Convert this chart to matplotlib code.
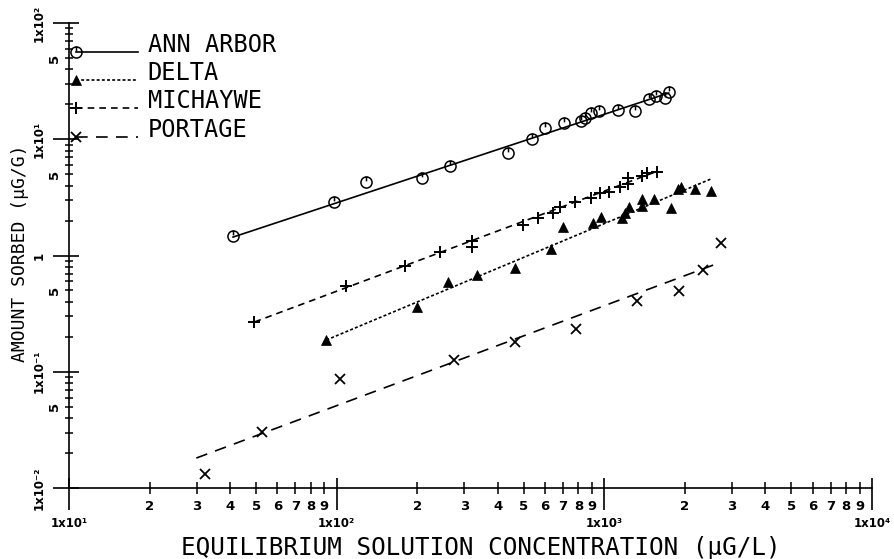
import numpy as np
import matplotlib.pyplot as plt
from matplotlib.path import Path
from matplotlib.ticker import FixedLocator, FixedFormatter

# equilibrium solution concentration (ug/L) vs amount sorbed (ug/g)
ann_x = [41.0, 97.5, 128.8, 209, 264, 436, 539, 598, 708, 818, 849, 892,
         958, 1124, 1297, 1463, 1559, 1679, 1738]
ann_y = [1.47, 2.87, 4.26, 4.61, 5.89, 7.57, 10.0, 12.6, 13.7, 14.4, 15.3,
         16.7, 17.5, 17.9, 17.5, 22.1, 23.6, 22.5, 25.6]

delta_x = [91.5, 199.5, 259.8, 334, 462, 634, 700, 906, 970, 1163, 1197,
           1239, 1381, 1381, 1527, 1778, 1877, 1937, 2185, 2505]
delta_y = [0.1875, 0.363, 0.588, 0.679, 0.776, 1.13, 1.75, 1.91, 2.15, 2.09,
           2.32, 2.61, 2.66, 3.04, 3.04, 2.55, 3.71, 3.92, 3.71, 3.60]

mich_x = [49.3, 108.6, 179.9, 242.6, 320.6, 320.6, 496.6, 564.9, 641, 681,
          778, 893, 960, 1037, 1146, 1231, 1231, 1380, 1449, 1571]
mich_y = [0.270, 0.547, 0.813, 1.065, 1.32, 1.19, 1.83, 2.09, 2.34, 2.59,
          2.90, 3.10, 3.43, 3.54, 3.91, 4.61, 4.12, 4.83, 5.09, 5.26]

port_x = [32.3, 52.8, 102.6, 273.5, 462.5, 785, 1324, 1906, 2334, 2722]
port_y = [0.0132, 0.0303, 0.0861, 0.126, 0.179, 0.233, 0.408, 0.496, 0.750, 1.29]

# fitted isotherm lines (end points)
ann_fit_x, ann_fit_y = [41, 1740], [1.44, 25.0]
delta_fit_x, delta_fit_y = [91.5, 2500], [0.1875, 4.55]
mich_fit_x, mich_fit_y = [49.3, 1575], [0.268, 5.3]
port_fit_x, port_fit_y = [29.9, 2720], [0.0181, 0.874]

soils = ['ANN ARBOR', 'DELTA', 'MICHAYWE', 'PORTAGE']

x_major = [1e1, 1e2, 1e3, 1e4]
x_major_labels = ['1x10\u00b9', '1x10\u00b2', '1x10\u00b3', '1x10\u2074']
y_major = [1e-2, 1e-1, 1e0, 1e1, 1e2]
y_major_labels = ['1x10\u207b\u00b2', '1x10\u207b\u00b9', '1', '1x10\u00b9', '1x10\u00b2']

# circle with a little stroke at the top, like the plotter symbol
o_mark = Path.make_compound_path(
    Path.unit_circle(),
    Path([[0, 1], [0, 0.2]], [Path.MOVETO, Path.LINETO]))

lw = 1.2
styles = [
    dict(marker=o_mark, ms=8, mfc='none', mec='k', mew=1.1, ls='-'),
    dict(marker='^', ms=6.5, mfc='k', mec='k', mew=0.5, ls=(0, (1.8, 1.3))),
    dict(marker='+', ms=8, mec='k', mew=1.4, ls=(0, (4, 3))),
    dict(marker='x', ms=7, mec='k', mew=1.3, ls=(0, (7, 5))),
]
series = [(ann_x, ann_y, ann_fit_x, ann_fit_y),
          (delta_x, delta_y, delta_fit_x, delta_fit_y),
          (mich_x, mich_y, mich_fit_x, mich_fit_y),
          (port_x, port_y, port_fit_x, port_fit_y)]

fig = plt.figure(figsize=(8.94, 5.59), dpi=100)
pos = [69 / 894, 71 / 559, 803 / 894, 465 / 559]
ax = fig.add_axes(pos)

for (px, py, fx, fy), st in zip(series, styles):
    ax.plot(fx, fy, color='k', lw=lw, ls=st['ls'])
    ax.plot(px, py, ls='none', color='k',
            **{k: v for k, v in st.items() if k != 'ls'})

def setup_log(a):
    a.set_xscale('log')
    a.set_yscale('log')
    a.set_xlim(1e1, 1e4)
    a.set_ylim(1e-2, 1e2)
    for s in ['top', 'right']:
        a.spines[s].set_visible(False)

setup_log(ax)
for s in ['left', 'bottom']:
    ax.spines[s].set_linewidth(1.2)

x_minor = [m * 10.0 ** e for e in range(1, 4) for m in range(2, 10)]
x_minor_labels = [str(m) for e in range(1, 4) for m in range(2, 10)]
y_minor = [m * 10.0 ** e for e in range(-2, 2) for m in range(2, 10)]
y_minor_labels = ['5' if m == 5 else '' for e in range(-2, 2) for m in range(2, 10)]

ax.xaxis.set_major_locator(FixedLocator(x_major))
ax.xaxis.set_major_formatter(FixedFormatter(x_major_labels))
ax.xaxis.set_minor_locator(FixedLocator(x_minor))
ax.xaxis.set_minor_formatter(FixedFormatter(x_minor_labels))
ax.yaxis.set_major_locator(FixedLocator(y_major))
ax.yaxis.set_major_formatter(FixedFormatter(y_major_labels))
ax.yaxis.set_minor_locator(FixedLocator(y_minor))
ax.yaxis.set_minor_formatter(FixedFormatter(y_minor_labels))

ax.tick_params(axis='x', which='major', direction='out', length=16, width=1.2,
               pad=5, labelsize=8.5)
ax.tick_params(axis='x', which='minor', direction='inout', length=8, width=1.1,
               pad=5, labelsize=9.5)
ax.tick_params(axis='y', which='major', direction='out', length=11.5, width=1.2,
               pad=5, labelsize=8.5, labelrotation=90)
ax.tick_params(axis='y', which='minor', direction='inout', length=6, width=1.1,
               pad=3, labelsize=9.5, labelrotation=90)
for lab in ax.get_xticklabels(which='both') + ax.get_yticklabels(which='both'):
    lab.set_fontweight('bold')
for lab in ax.get_yticklabels(which='both'):
    lab.set_va('center')

# inward half of the major ticks
ax_in = fig.add_axes(pos)
setup_log(ax_in)
ax_in.patch.set_visible(False)
ax_in.spines['left'].set_visible(False)
ax_in.spines['bottom'].set_visible(False)
ax_in.xaxis.set_major_locator(FixedLocator(x_major))
ax_in.yaxis.set_major_locator(FixedLocator(y_major))
ax_in.minorticks_off()
ax_in.tick_params(axis='both', which='major', direction='in', length=7,
                  width=1.2, labelbottom=False, labelleft=False)

# legend drawn along the y axis
mono = 'DejaVu Sans Mono'
leg_y = [0.9376, 0.8774, 0.8172, 0.7548]
for name, st, yy in zip(soils, styles, leg_y):
    ax.plot([0.009, 0.086], [yy, yy], transform=ax.transAxes, clip_on=False,
            color='k', lw=lw, ls=st['ls'])
    ax.plot([0.009], [yy], transform=ax.transAxes, clip_on=False, ls='none',
            color='k', **{k: v for k, v in st.items() if k != 'ls'})
    ax.text(0.098, yy, name, transform=ax.transAxes, family=mono,
            fontsize=17, va='baseline', ha='left')

fig.text(0.538, 0.02, 'EQUILIBRIUM SOLUTION CONCENTRATION (\u00b5G/L)',
         family=mono, fontsize=17.5, ha='center', va='center')
fig.text(0.022, 0.547, 'AMOUNT SORBED (\u00b5G/G)', family=mono, fontsize=13,
         rotation=90, ha='center', va='center')

fig.savefig('out.png', dpi=100)
